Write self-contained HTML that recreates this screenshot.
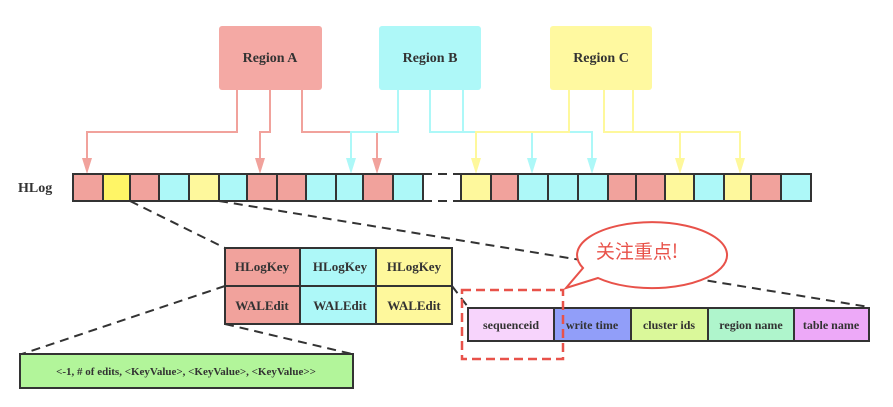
<!DOCTYPE html>
<html><head><meta charset="utf-8"><style>
html,body{margin:0;padding:0;background:#fff;}
svg{display:block;}
text{font-family:"Liberation Serif","Noto Serif CJK SC",serif;font-weight:bold;fill:#333;}
</style></head><body>
<svg width="893" height="407" viewBox="0 0 893 407" xmlns="http://www.w3.org/2000/svg">
<!-- regions -->
<rect x="219" y="26" width="103" height="64" rx="3" fill="#f4a9a4"/>
<rect x="379" y="26" width="102" height="64" rx="3" fill="#aef8f8"/>
<rect x="550" y="26" width="102" height="64" rx="3" fill="#fff9a0"/>
<text x="270" y="62" font-size="14" text-anchor="middle">Region A</text>
<text x="430" y="62" font-size="14" text-anchor="middle">Region B</text>
<text x="601" y="62" font-size="14" text-anchor="middle">Region C</text>
<!-- connectors -->
<g fill="none" stroke-width="2">
<g stroke="#f1a29c">
<polyline points="237,90 237,132 87,132 87,160"/>
<polyline points="270,90 270,132 260,132 260,160"/>
<polyline points="302,90 302,132 377,132 377,160"/>
</g>
<g stroke="#adf8f8">
<polyline points="398,90 398,132 351,132 351,160"/>
<polyline points="430,90 430,132 532,132 532,160"/>
<polyline points="463,90 463,132 592,132 592,160"/>
</g>
<g stroke="#fef89c">
<polyline points="569,90 569,132 476,132 476,160"/>
<polyline points="604,90 604,132 633,132"/>
<polyline points="633,90 633,132 740,132 740,160"/>
<polyline points="680,132 680,160"/>
</g>
</g>
<g fill="#f1a29c">
<path d="M82,158 L92,158 L87,174 Z"/><path d="M255,158 L265,158 L260,174 Z"/><path d="M372,158 L382,158 L377,174 Z"/>
</g>
<g fill="#adf8f8">
<path d="M346,158 L356,158 L351,174 Z"/><path d="M527,158 L537,158 L532,174 Z"/><path d="M587,158 L597,158 L592,174 Z"/>
</g>
<g fill="#fef89c">
<path d="M471,158 L481,158 L476,174 Z"/><path d="M675,158 L685,158 L680,174 Z"/><path d="M735,158 L745,158 L740,174 Z"/>
</g>
<text x="18" y="192" font-size="14">HLog</text>
<!-- hlog cells -->
<g stroke="#333" stroke-width="2">
<rect x="73" y="174" width="30" height="27" fill="#f1a29c"/>
<rect x="103" y="174" width="27" height="27" fill="#fff566"/>
<rect x="130" y="174" width="29" height="27" fill="#f1a29c"/>
<rect x="159" y="174" width="30" height="27" fill="#adf8f8"/>
<rect x="189" y="174" width="30" height="27" fill="#fef89c"/>
<rect x="219" y="174" width="28" height="27" fill="#adf8f8"/>
<rect x="247" y="174" width="30" height="27" fill="#f1a29c"/>
<rect x="277" y="174" width="29" height="27" fill="#f1a29c"/>
<rect x="306" y="174" width="30" height="27" fill="#adf8f8"/>
<rect x="336" y="174" width="27" height="27" fill="#adf8f8"/>
<rect x="363" y="174" width="30" height="27" fill="#f1a29c"/>
<rect x="393" y="174" width="30" height="27" fill="#adf8f8"/>
<rect x="461" y="174" width="30" height="27" fill="#fef89c"/>
<rect x="491" y="174" width="27" height="27" fill="#f1a29c"/>
<rect x="518" y="174" width="30" height="27" fill="#adf8f8"/>
<rect x="548" y="174" width="30" height="27" fill="#adf8f8"/>
<rect x="578" y="174" width="30" height="27" fill="#adf8f8"/>
<rect x="608" y="174" width="28" height="27" fill="#f1a29c"/>
<rect x="636" y="174" width="29" height="27" fill="#f1a29c"/>
<rect x="665" y="174" width="29" height="27" fill="#fef89c"/>
<rect x="694" y="174" width="30" height="27" fill="#adf8f8"/>
<rect x="724" y="174" width="27" height="27" fill="#fef89c"/>
<rect x="751" y="174" width="30" height="27" fill="#f1a29c"/>
<rect x="781" y="174" width="30" height="27" fill="#adf8f8"/>
</g>
<g stroke="#333" stroke-width="2" stroke-dasharray="9,6" fill="none">
<line x1="423" y1="174" x2="461" y2="174"/>
<line x1="423" y1="201" x2="461" y2="201"/>
<line x1="130" y1="201" x2="225" y2="248"/>
<line x1="219" y1="201" x2="869" y2="307"/>
<line x1="225" y1="286" x2="22" y2="354"/>
<line x1="225" y1="324" x2="352" y2="354"/>
<line x1="452" y1="286" x2="468" y2="307"/>
</g>
<!-- table -->
<g stroke="#333" stroke-width="2">
<rect x="225" y="248" width="75" height="38" fill="#f1a29c"/>
<rect x="300" y="248" width="76" height="38" fill="#adf8f8"/>
<rect x="376" y="248" width="76" height="38" fill="#fef89c"/>
<rect x="225" y="286" width="75" height="38" fill="#f1a29c"/>
<rect x="300" y="286" width="76" height="38" fill="#adf8f8"/>
<rect x="376" y="286" width="76" height="38" fill="#fef89c"/>
<rect x="20" y="354" width="333" height="34" fill="#b2f59a"/>
</g>
<g font-size="13" text-anchor="middle">
<text x="262" y="271">HLogKey</text><text x="340" y="271">HLogKey</text><text x="414" y="271">HLogKey</text>
<text x="262" y="310">WALEdit</text><text x="340" y="310">WALEdit</text><text x="414" y="310">WALEdit</text>
<text x="186" y="375" font-size="11">&lt;-1, # of edits, &lt;KeyValue&gt;, &lt;KeyValue&gt;, &lt;KeyValue&gt;&gt;</text>
</g>
<!-- detail row -->
<g stroke="#333" stroke-width="2">
<rect x="468" y="308" width="86" height="33" fill="#f7d4fc"/>
<rect x="554" y="308" width="77" height="33" fill="#919ef9"/>
<rect x="631" y="308" width="77" height="33" fill="#daf89a"/>
<rect x="708" y="308" width="86" height="33" fill="#aff5cc"/>
<rect x="794" y="308" width="75" height="33" fill="#eda9f8"/>
</g>
<g font-size="12" text-anchor="middle">
<text x="511" y="329">sequenceid</text><text x="592" y="329">write time</text><text x="669" y="329">cluster ids</text><text x="751" y="329">region name</text><text x="831" y="329">table name</text>
</g>
<!-- highlight -->
<rect x="462" y="290" width="101" height="69" fill="none" stroke="#e8524a" stroke-width="2.5" stroke-dasharray="9,5"/>
<path d="M583,268 A75,33 0 1 1 598,278 L566,288 Z" fill="#fff" stroke="#e8524a" stroke-width="2"/>
<text x="637" y="258" font-size="19" text-anchor="middle" style="font-family:'Noto Sans CJK SC',sans-serif;font-weight:normal;fill:#e8524a">关注重点!</text>
</svg>
</body></html>
